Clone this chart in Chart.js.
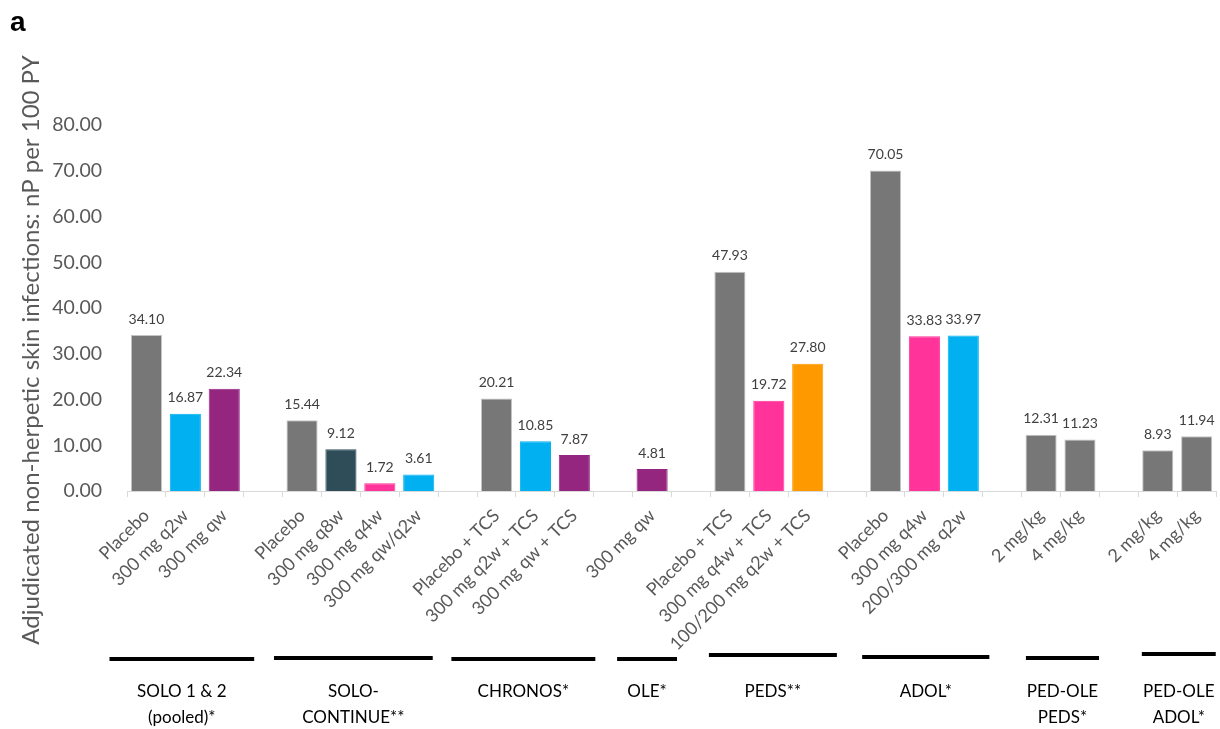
<!DOCTYPE html>
<html>
<head>
<meta charset="utf-8">
<script src="https://cdn.jsdelivr.net/npm/chart.js@4/dist/chart.umd.min.js"></script>
<style>
  body { margin: 0; background: #fff; }
  #grafico { display: block; }
</style>
</head>
<body>
<canvas id="grafico" width="1220" height="729"></canvas>
<script>
// treatment arms, one slot each; empty strings are spacer slots between studies
const categorias = [
    'Placebo', '300 mg q2w', '300 mg qw', '',
    'Placebo', '300 mg q8w', '300 mg q4w', '300 mg qw/q2w', '',
    'Placebo + TCS', '300 mg q2w + TCS', '300 mg qw + TCS', '',
    '300 mg qw', '',
    'Placebo + TCS', '300 mg q4w + TCS', '100/200 mg q2w + TCS', '',
    'Placebo', '300 mg q4w', '200/300 mg q2w', '',
    '2 mg/kg', '4 mg/kg', '',
    '2 mg/kg', '4 mg/kg'
];

// nP per 100 PY
const tasas = [
    34.10, 16.87, 22.34, null,
    15.44, 9.12, 1.72, 3.61, null,
    20.21, 10.85, 7.87, null,
    4.81, null,
    47.93, 19.72, 27.80, null,
    70.05, 33.83, 33.97, null,
    12.31, 11.23, null,
    8.93, 11.94
];

const ticksY = [0, 10, 20, 30, 40, 50, 60, 70, 80];

// studies shown under the axis
const estudios = [
    ['SOLO 1 & 2', '(pooled)*'],
    ['SOLO-', 'CONTINUE**'],
    ['CHRONOS*'],
    ['OLE*'],
    ['PEDS**'],
    ['ADOL*'],
    ['PED-OLE', 'PEDS*'],
    ['PED-OLE', 'ADOL*']
];
const estudioDesde = [0, 4, 9, 13, 15, 19, 23, 26];
const estudioHasta = [2, 7, 11, 13, 17, 21, 24, 27];

// colours and bracket extents (in slot widths) for drawing
const GRIS = '#777777', AZUL = '#00b0f0', MORADO = '#952680', PIZARRA = '#2e4d59', ROSA = '#ff3399', NARANJA = '#ff9900';
const coloresBarra = [
    GRIS, AZUL, MORADO, GRIS,
    GRIS, PIZARRA, ROSA, AZUL, GRIS,
    GRIS, AZUL, MORADO, GRIS,
    MORADO, GRIS,
    GRIS, ROSA, NARANJA, GRIS,
    GRIS, ROSA, AZUL, GRIS,
    GRIS, GRIS, GRIS,
    GRIS, GRIS
];
const lineaIzq = [0.95, 0.72, 1.16, 0.9, 0.54, 0.6, 0.39, 0.41];
const lineaDer = [0.77, 0.36, 0.54, 0.64, 0.75, 0.67, 0.49, 0.49];
const lineaY = [659, 658, 659, 659, 655, 657, 658, 654];

const FUENTE = 'Lato, "Open Sans", sans-serif';

// value labels above each bar
const etiquetasValor = {
    id: 'etiquetasValor',
    afterDatasetsDraw(chart) {
        const ctx = chart.ctx;
        const meta = chart.getDatasetMeta(0);
        ctx.save();
        ctx.font = '14px ' + FUENTE;
        ctx.fillStyle = '#404040';
        ctx.textAlign = 'center';
        ctx.textBaseline = 'bottom';
        meta.data.forEach((bar, i) => {
            if (tasas[i] === null) return;
            ctx.fillText(tasas[i].toFixed(2), bar.x, bar.y - 9);
        });
        ctx.restore();
    }
};

// panel letter, rotated axis title and the study brackets
const anotaciones = {
    id: 'anotaciones',
    afterDraw(chart) {
        const ctx = chart.ctx;
        const x = chart.scales.x;
        const paso = x.getPixelForValue(1) - x.getPixelForValue(0);
        ctx.save();

        ctx.font = 'bold 28px "Liberation Sans", Arial, sans-serif';
        ctx.fillStyle = '#000';
        ctx.textAlign = 'left';
        ctx.textBaseline = 'alphabetic';
        ctx.fillText('a', 10, 31);

        ctx.save();
        ctx.translate(31, 350);
        ctx.rotate(-Math.PI / 2);
        ctx.font = '24px ' + FUENTE;
        ctx.fillStyle = '#595959';
        ctx.textAlign = 'center';
        ctx.textBaseline = 'middle';
        ctx.fillText('Adjudicated non-herpetic skin infections: nP per 100 PY', 0, 0);
        ctx.restore();

        ctx.font = '17px ' + FUENTE;
        ctx.fillStyle = '#000';
        ctx.textAlign = 'center';
        ctx.textBaseline = 'middle';
        estudios.forEach((lineas, g) => {
            const x0 = x.getPixelForValue(estudioDesde[g]) - lineaIzq[g] * paso;
            const x1 = x.getPixelForValue(estudioHasta[g]) + lineaDer[g] * paso;
            ctx.fillRect(x0, lineaY[g] - 2, x1 - x0, 4);
            const cx = (x0 + x1) / 2;
            lineas.forEach((t, k) => ctx.fillText(t, cx, 692 + k * 26));
        });
        ctx.restore();
    }
};

const ctx = document.getElementById('grafico').getContext('2d');
new Chart(ctx, {
    type: 'bar',
    data: {
        labels: categorias,
        datasets: [{
            data: tasas,
            backgroundColor: coloresBarra,
            borderColor: coloresBarra.map(c => c === GRIS ? '#c4c4c4' : c),
            borderWidth: 1,
            barPercentage: 0.8,
            categoryPercentage: 1.0
        }]
    },
    options: {
        responsive: false,
        animation: false,
        devicePixelRatio: 1,
        layout: { padding: { top: 125, right: 3, left: 0, bottom: 0 } },
        plugins: { legend: { display: false }, tooltip: { enabled: false } },
        scales: {
            x: {
                afterFit: s => { s.height = 238; },
                grid: { display: true, drawOnChartArea: false, drawTicks: true, tickLength: 6, color: '#d9d9d9', offset: true },
                border: { display: true, color: '#d9d9d9', width: 1 },
                ticks: {
                    autoSkip: false, maxRotation: 45, minRotation: 45, padding: 8,
                    color: '#595959', font: { family: FUENTE, size: 18 }
                }
            },
            y: {
                min: 0, max: 80,
                afterFit: s => { s.width = 127; },
                afterBuildTicks: s => { s.ticks = ticksY.map(v => ({ value: v })); },
                grid: { display: false },
                border: { display: false },
                ticks: {
                    padding: 17, color: '#595959',
                    font: { family: FUENTE, size: 19.5 },
                    callback: v => v.toFixed(2)
                }
            }
        }
    },
    plugins: [etiquetasValor, anotaciones]
});
</script>
</body>
</html>
